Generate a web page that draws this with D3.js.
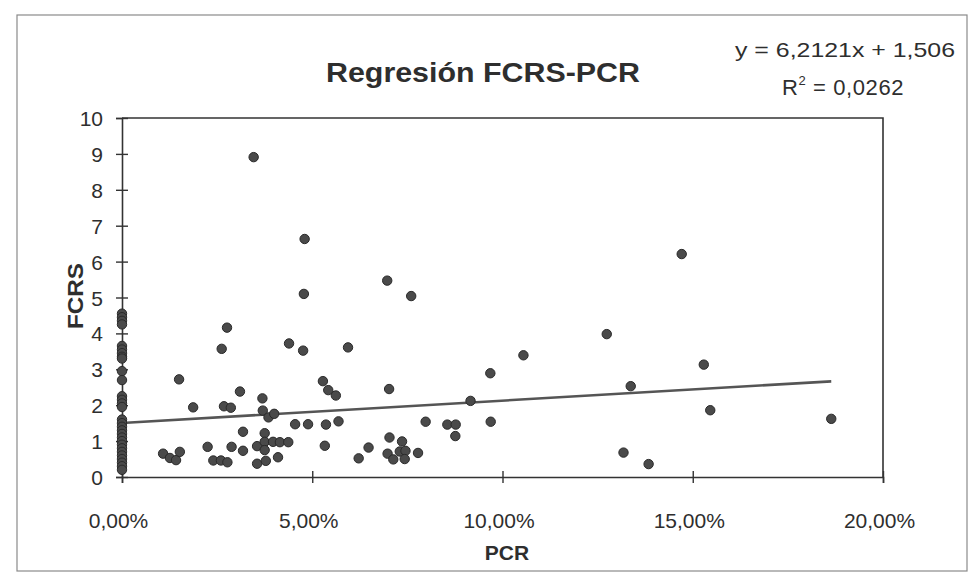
<!DOCTYPE html>
<html><head><meta charset="utf-8">
<script src="https://cdn.jsdelivr.net/npm/d3@7"></script>
<style>
html,body{margin:0;padding:0;background:#fff;}
svg{display:block;}
text{font-family:"Liberation Sans",Arial,sans-serif;fill:#2e2e2e;}
</style></head><body>
<svg id="chart" width="972" height="584"></svg>
<script>
// PCR values with PCR = 0 (many observations on the y axis)
const zeroPcrFcrs = [4.55,4.45,4.35,4.25,3.65,3.55,3.45,3.35,3.3,2.95,2.7,2.25,2.15,2.05,1.95,
  1.6,1.5,1.4,1.3,1.2,1.1,1.0,0.9,0.8,0.7,0.6,0.5,0.4,0.3,0.2];
// Other observations: PCR (%) and FCRS
const pcrPct = [1.08,1.26,1.42,1.52,1.50,1.87,2.25,2.40,2.60,2.77,2.62,2.76,2.68,2.86,2.88,3.10,3.18,3.18,
  3.46,3.55,3.55,3.69,3.70,3.85,4.00,3.75,3.75,3.75,3.78,3.97,4.10,4.15,4.37,4.39,4.55,4.76,4.78,4.80,
  4.89,5.28,5.42,5.62,5.33,5.36,5.69,5.94,6.22,6.48,6.97,7.02,7.03,7.36,6.98,7.13,7.30,7.45,7.43,7.78,
  7.60,7.98,8.55,8.77,8.76,9.16,9.68,9.69,10.55,12.74,13.18,13.37,13.84,14.71,15.29,15.46,18.64];
const fcrs = [0.65,0.53,0.47,0.70,2.72,1.94,0.84,0.46,0.46,0.41,3.57,4.16,1.97,1.93,0.84,2.38,1.26,0.73,
  8.91,0.86,0.37,2.19,1.85,1.66,1.76,1.22,0.98,0.75,0.45,0.98,0.55,0.97,0.97,3.72,1.47,3.52,5.10,6.63,
  1.47,2.67,2.42,2.27,0.87,1.46,1.55,3.61,0.52,0.82,5.47,2.45,1.10,0.99,0.65,0.49,0.71,0.73,0.50,0.67,
  5.04,1.54,1.46,1.46,1.14,2.12,2.89,1.54,3.39,3.98,0.68,2.53,0.36,6.21,3.13,1.86,1.62];
const xTicks = [0,0.05,0.10,0.15,0.20];
const yTicks = [0,1,2,3,4,5,6,7,8,9,10];
const slope = 6.2121, intercept = 1.506, r2 = "0,0262";
const titleText = "Regresión FCRS-PCR";
const xTitle = "PCR", yTitle = "FCRS";

const points = zeroPcrFcrs.map(v => ({x:0, y:v}))
  .concat(pcrPct.map((p,i) => ({x:p/100, y:fcrs[i]})));

const svg = d3.select("#chart");
const L = 122, R = 883, T = 118, B = 477;
const x = d3.scaleLinear().domain([0,0.2]).range([L,R]);
const y = d3.scaleLinear().domain([0,10]).range([B,T]);
const fmtPct = v => d3.format(".2f")(v*100).replace(".", ",") + "%";

// outer frame
svg.append("rect").attr("x",17).attr("y",15).attr("width",950).attr("height",556)
  .attr("fill","#fff").attr("stroke","#8a8a8a").attr("stroke-width",1.2);

// plot border (top and right)
svg.append("path").attr("d",`M${L},${T}H${R}V${B}`).attr("fill","none")
  .attr("stroke","#333").attr("stroke-width",1.6);

// axes
const xAxis = svg.append("g").attr("transform",`translate(0,${B})`)
  .call(d3.axisBottom(x).tickValues(xTicks).tickSize(6).tickFormat(fmtPct));
xAxis.selectAll(".tick line").attr("y1",-6).attr("y2",6);
xAxis.selectAll("text").attr("dy",0).attr("y",51).attr("dx",-4).style("font-size","21px");
const yAxis = svg.append("g").attr("transform",`translate(${L},0)`)
  .call(d3.axisLeft(y).tickValues(yTicks).tickSize(6));
yAxis.selectAll(".tick line").attr("x1",-6).attr("x2",6);
yAxis.selectAll("text").attr("x",-19).attr("dy","0.36em").style("font-size","21px");
svg.selectAll(".domain").attr("stroke","#333").attr("stroke-width",1.6);
svg.selectAll(".tick line").attr("stroke","#333").attr("stroke-width",1.4);
svg.selectAll(".tick text").attr("fill","#333").style("font-family","Liberation Sans, Arial, sans-serif");

// regression line
const xMax = d3.max(points, d => d.x);
svg.append("line")
  .attr("x1",x(0)).attr("y1",y(intercept))
  .attr("x2",x(xMax)).attr("y2",y(slope*xMax+intercept))
  .attr("stroke","#555").attr("stroke-width",2.6);

// points
svg.append("g").selectAll("circle").data(points).join("circle")
  .attr("cx",d=>x(d.x)).attr("cy",d=>y(d.y)).attr("r",4.7)
  .attr("fill","#4a4a4a").attr("stroke","#2a2a2a").attr("stroke-width",1);

// titles
svg.append("text").attr("x",483).attr("y",82).attr("text-anchor","middle")
  .style("font-size","27px").style("font-weight","bold").attr("textLength",314)
  .attr("lengthAdjust","spacingAndGlyphs").text(titleText);
svg.append("text").attr("x",507).attr("y",560).attr("text-anchor","middle")
  .style("font-size","21px").style("font-weight","bold").text(xTitle);
svg.append("text").attr("transform","translate(83,296) rotate(-90)").attr("text-anchor","middle")
  .style("font-size","22px").style("font-weight","bold")
  .attr("textLength",66).attr("lengthAdjust","spacingAndGlyphs").text(yTitle);

// equation
const eq = d3.format(".4f")(slope).replace(".",",");
const ic = d3.format(".3f")(intercept).replace(".",",");
svg.append("text").attr("x",735).attr("y",57)
  .style("font-size","21px").attr("textLength",220).attr("lengthAdjust","spacingAndGlyphs")
  .text(`y = ${eq}x + ${ic}`);
const r2t = svg.append("text").attr("x",782).attr("y",95)
  .style("font-size","22px").style("letter-spacing","0.6px");
r2t.append("tspan").text("R");
r2t.append("tspan").attr("dy",-10).style("font-size","13px").text("2");
r2t.append("tspan").attr("dy",10).text(" = " + r2);
</script>
</body></html>
